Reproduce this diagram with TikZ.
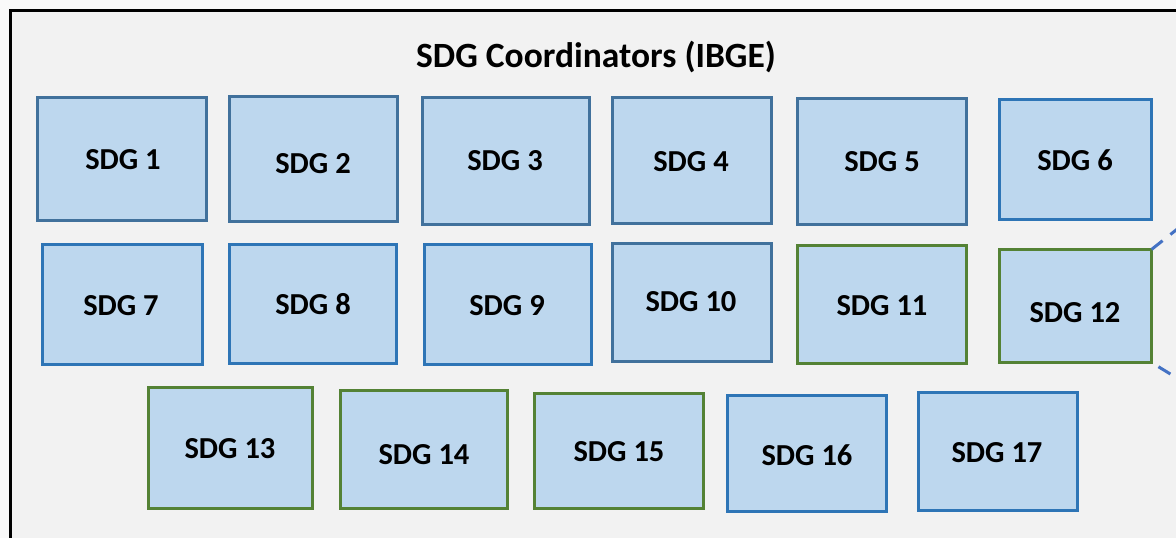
\documentclass[tikz,border=0pt]{standalone}
\usepackage{fontspec}
\setmainfont{Carlito}
\definecolor{outbg}{HTML}{F9F9F9}
\definecolor{panelbg}{HTML}{F2F2F2}
\definecolor{boxfill}{HTML}{BDD7EE}
\definecolor{blueA}{HTML}{41719C}
\definecolor{blueB}{HTML}{2E75B6}
\definecolor{greenB}{HTML}{548235}
\definecolor{dashblue}{HTML}{4472C4}
\tikzset{
  sdgbase/.style={fill=boxfill, line width=2.8pt, inner sep=0pt, outer sep=0pt},
  sdgA/.style={sdgbase, draw=blueA},
  sdgB/.style={sdgbase, draw=blueB},
  sdgG/.style={sdgbase, draw=greenB},
  lbl/.style={inner sep=0pt, font=\fontsize{30.5}{36}\selectfont\bfseries},
  ttl/.style={inner sep=0pt, font=\fontsize{35.5}{42}\selectfont\bfseries},
  zoomline/.style={draw=dashblue, line width=3pt, dash pattern=on 14pt off 10pt},
}
\newcommand\sdgbox[8]{%
  \node[#2, minimum width={(#5-#3-2.8)*1pt}, minimum height={(#6-#4-2.8)*1pt}]
    (b#1) at ({(#3+#5)/2},{(#4+#6)/2}) {};
  \node[lbl] (t#1) at (#7) {#8};
}
\begin{document}
\begin{tikzpicture}[x=1pt,y=-1pt]
\useasboundingbox (0,0) rectangle (1176,538);
\clip (0,0) rectangle (1176,538);
\fill[outbg] (0,0) rectangle (1176,538);
\draw[black, line width=2.6pt, fill=panelbg] (10.5,10.5) rectangle (1200,570);
\node[ttl] (title) at (596,57) {SDG Coordinators (IBGE)};
\sdgbox{1}{sdgA}{36}{96}{208}{222}{123,160}{SDG 1}
\sdgbox{2}{sdgA}{228}{95}{399}{223}{313,164}{SDG 2}
\sdgbox{3}{sdgA}{421}{96}{591}{226}{505,161}{SDG 3}
\sdgbox{4}{sdgA}{611}{96}{773}{225}{691,162}{SDG 4}
\sdgbox{5}{sdgA}{796}{97}{968}{226}{882,162}{SDG 5}
\sdgbox{6}{sdgB}{998}{98}{1153}{221}{1075,160}{SDG 6}
\sdgbox{7}{sdgB}{41}{243}{204}{366}{121,306}{SDG 7}
\sdgbox{8}{sdgB}{228}{243}{398}{365}{313,304}{SDG 8}
\sdgbox{9}{sdgB}{423}{243}{593}{366}{507,306}{SDG 9}
\sdgbox{10}{sdgA}{611}{242}{773}{363}{691,302}{SDG 10}
\sdgbox{11}{sdgG}{796}{244}{968}{365}{882,306}{SDG 11}
\sdgbox{12}{sdgG}{998}{248}{1153}{364}{1075,313}{SDG 12}
\sdgbox{13}{sdgG}{147}{386}{314}{510}{230,449}{SDG 13}
\sdgbox{14}{sdgG}{339}{389}{509}{510}{424,455}{SDG 14}
\sdgbox{15}{sdgG}{533}{392}{705}{510}{619,452}{SDG 15}
\sdgbox{16}{sdgB}{726}{394}{888}{513}{807,455}{SDG 16}
\sdgbox{17}{sdgB}{917}{391}{1079}{512}{997,453}{SDG 17}
\coordinate (zt) at (1200,211);
\coordinate (zb) at (1200,392);
\draw[zoomline] (b12.north east) -- (zt);
\draw[zoomline, dash phase=16pt] (b12.south east) -- (zb);
\end{tikzpicture}
\end{document}
